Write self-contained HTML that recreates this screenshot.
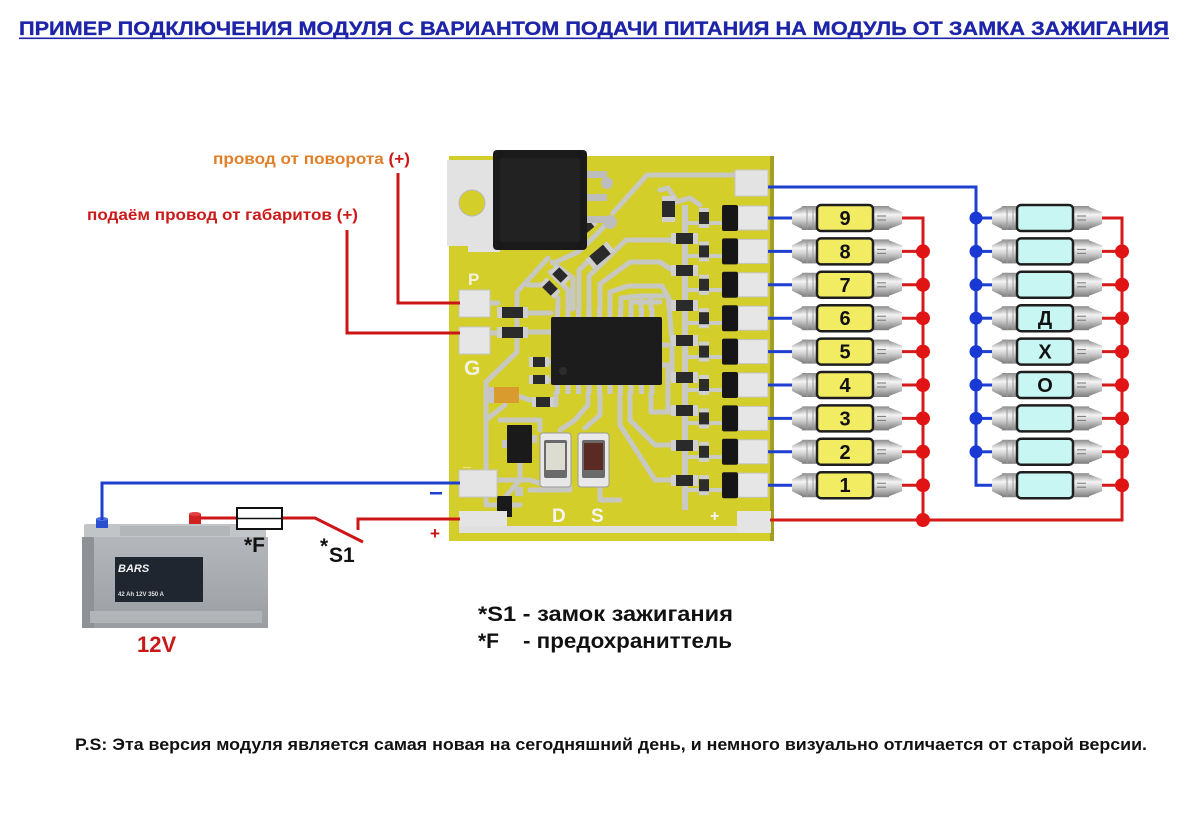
<!DOCTYPE html>
<html><head><meta charset="utf-8">
<style>
html,body{margin:0;padding:0;background:#fff;}
svg{display:block;}
text{font-family:"Liberation Sans","DejaVu Sans",sans-serif;font-weight:bold;}
</style></head><body>
<svg width="1200" height="828" viewBox="0 0 1200 828" xmlns="http://www.w3.org/2000/svg">
<defs>
 <linearGradient id="cap" x1="0" y1="0" x2="0" y2="1">
  <stop offset="0" stop-color="#8a8a8a"/>
  <stop offset="0.35" stop-color="#f4f4f4"/>
  <stop offset="0.6" stop-color="#cfcfcf"/>
  <stop offset="1" stop-color="#7c7c7c"/>
 </linearGradient>
 <linearGradient id="bat" x1="0" y1="0" x2="0" y2="1">
  <stop offset="0" stop-color="#b4b8bc"/>
  <stop offset="1" stop-color="#9a9ea2"/>
 </linearGradient>
 <g id="caps">
  <polygon points="-54,-6 -44,-11 -44,11 -54,6" fill="url(#cap)"/>
  <rect x="-44" y="-12" width="16" height="24" fill="url(#cap)"/>
  <line x1="-39" y1="-12" x2="-39" y2="12" stroke="#9a9a9a" stroke-width="1"/>
  <line x1="-33" y1="-12" x2="-33" y2="12" stroke="#9a9a9a" stroke-width="1"/>
  <rect x="27" y="-12" width="16" height="24" fill="url(#cap)"/>
  <polygon points="43,-11 56,-6 56,6 43,11" fill="url(#cap)"/>
  <line x1="31" y1="-2" x2="40" y2="-2" stroke="#777" stroke-width="1"/>
  <line x1="31" y1="2" x2="40" y2="2" stroke="#777" stroke-width="1"/>
 </g>
</defs>

<!-- Title -->
<text x="19" y="35" font-size="19" fill="#1d24a8" stroke="#1d24a8" stroke-width="0.3" textLength="1150" lengthAdjust="spacingAndGlyphs">ПРИМЕР ПОДКЛЮЧЕНИЯ МОДУЛЯ С ВАРИАНТОМ ПОДАЧИ ПИТАНИЯ НА МОДУЛЬ ОТ ЗАМКА ЗАЖИГАНИЯ</text>
<rect x="19" y="37.5" width="1150" height="1.6" fill="#1d24a8"/>

<!-- Labels top-left -->
<text x="213" y="164" font-size="16" textLength="197" lengthAdjust="spacingAndGlyphs"><tspan fill="#e0802a">провод от поворота </tspan><tspan fill="#cc1a1a">(+)</tspan></text>
<text x="87" y="220" font-size="16" fill="#cc1a1a" textLength="271" lengthAdjust="spacingAndGlyphs">подаём провод от габаритов (+)</text>

<!-- PCB -->
<g>
 <rect x="449" y="156" width="325" height="385" fill="#d4ce2b"/>
 <rect x="770" y="156" width="4" height="385" fill="#a49e22"/>
 <!-- tab -->
 <path d="M447 160 H500 V252 H468 V246 H447 Z" fill="#e2e2e2"/>
 <circle cx="472" cy="203" r="13" fill="#d4ce2b" stroke="#b8b8b8" stroke-width="1"/>
 <!-- traces -->
 <g fill="none" stroke="#c8c8c2" stroke-width="5" stroke-linejoin="round" stroke-linecap="round">
  <path d="M613 213 L647 175 H735"/>
  <path d="M608 222 L595 236 L578 252 L556 262"/>
  <path d="M548 258 L517 292 V352 L486 382 V483 H462"/>
  <path d="M486 400 V505 H520"/>
  <path d="M552 262 L573 278 V309"/>
  <path d="M558 309 V298 L545 285 L528 285"/>
  <path d="M568 309 V290 L550 272"/>
  <path d="M579 309 V270 L600 250"/>
  <path d="M589 309 V276 L626 240 H672"/>
  <path d="M600 309 V284 L630 262 H660 L672 270"/>
  <path d="M610 309 V292 L628 286 H662 L672 305"/>
  <path d="M621 309 V298 L640 296 H668 L672 340"/>
  <path d="M631 309 V302 H660"/>
  <path d="M641 309 V300"/>
  <path d="M651 309 V300"/>
  <path d="M662 345 H672 V377"/>
  <path d="M662 365 H668 V410 H672"/>
  <path d="M651 393 V412 L670 412"/>
  <path d="M630 393 V420 L655 445 H672"/>
  <path d="M620 393 V425 L655 480 H672"/>
  <path d="M600 393 V415 L585 428"/>
  <path d="M588 393 V405 L575 420 L560 430"/>
  <path d="M556 393 V405 L530 400 L515 395"/>
  <path d="M527 313 H551"/>
  <path d="M527 332 H551"/>
  <path d="M490 303 H498"/>
  <path d="M490 333 H498"/>
  <path d="M540 362 H551"/>
  <path d="M540 380 H551"/>
  <path d="M505 405 L486 420"/>
  <path d="M520 463 V480 L505 497"/>
  <path d="M497 480 L530 480 L560 490"/>
  <path d="M665 205 L690 198 L700 205"/>
  <path d="M675 198 L668 188 L660 190"/>
  <path d="M500 420 H540 V430"/>
  <path d="M530 490 H570 V487"/>
  <path d="M600 487 V500 H620"/>
 </g>
 <!-- bus -->
 <rect x="682" y="205" width="6" height="305" fill="#cacac4"/>
 <g fill="#cacac4">
  <rect x="685" y="221" width="38" height="4"/>
  <rect x="685" y="254" width="38" height="4"/>
  <rect x="685" y="288" width="38" height="4"/>
  <rect x="685" y="321" width="38" height="4"/>
  <rect x="685" y="355" width="38" height="4"/>
  <rect x="685" y="388" width="38" height="4"/>
  <rect x="685" y="421" width="38" height="4"/>
  <rect x="685" y="455" width="38" height="4"/>
  <rect x="685" y="488" width="38" height="4"/>
 </g>
 <!-- top right pad -->
 <rect x="735" y="170" width="33" height="26" fill="#e3e3e3" stroke="#c4c4c4"/>
 <!-- output pads -->
 <g fill="#e6e6e6" stroke="#c4c4c4" stroke-width="1">
  <rect x="738" y="206" width="30" height="24"/>
  <rect x="738" y="239.4" width="30" height="24"/>
  <rect x="738" y="272.8" width="30" height="24"/>
  <rect x="738" y="306.2" width="30" height="24"/>
  <rect x="738" y="339.6" width="30" height="24"/>
  <rect x="738" y="373" width="30" height="24"/>
  <rect x="738" y="406.4" width="30" height="24"/>
  <rect x="738" y="439.8" width="30" height="24"/>
  <rect x="738" y="473.2" width="30" height="24"/>
 </g>
 <!-- transistors -->
 <g fill="#161616">
  <rect x="722" y="205" width="16" height="26" rx="2"/>
  <rect x="722" y="238.4" width="16" height="26" rx="2"/>
  <rect x="722" y="271.8" width="16" height="26" rx="2"/>
  <rect x="722" y="305.2" width="16" height="26" rx="2"/>
  <rect x="722" y="338.6" width="16" height="26" rx="2"/>
  <rect x="722" y="372" width="16" height="26" rx="2"/>
  <rect x="722" y="405.4" width="16" height="26" rx="2"/>
  <rect x="722" y="438.8" width="16" height="26" rx="2"/>
  <rect x="722" y="472.2" width="16" height="26" rx="2"/>
 </g>
 <!-- small vertical resistors -->
 <g>
  <g fill="#cfcfcf">
   <rect x="699" y="208" width="10" height="20"/><rect x="699" y="241.4" width="10" height="20"/><rect x="699" y="274.8" width="10" height="20"/>
   <rect x="699" y="308.2" width="10" height="20"/><rect x="699" y="341.6" width="10" height="20"/><rect x="699" y="375" width="10" height="20"/>
   <rect x="699" y="408.4" width="10" height="20"/><rect x="699" y="441.8" width="10" height="20"/><rect x="699" y="475.2" width="10" height="20"/>
  </g>
  <g fill="#2c2c2c">
   <rect x="699" y="212" width="10" height="12"/><rect x="699" y="245.4" width="10" height="12"/><rect x="699" y="278.8" width="10" height="12"/>
   <rect x="699" y="312.2" width="10" height="12"/><rect x="699" y="345.6" width="10" height="12"/><rect x="699" y="379" width="10" height="12"/>
   <rect x="699" y="412.4" width="10" height="12"/><rect x="699" y="445.8" width="10" height="12"/><rect x="699" y="479.2" width="10" height="12"/>
  </g>
 </g>
 <!-- 103 resistors -->
 <g>
  <g fill="#d0d0d0">
   <rect x="671" y="233" width="27" height="11"/><rect x="671" y="265" width="27" height="11"/><rect x="671" y="300" width="27" height="11"/><rect x="671" y="335" width="27" height="11"/>
   <rect x="671" y="372" width="27" height="11"/><rect x="671" y="405" width="27" height="11"/><rect x="671" y="440" width="27" height="11"/><rect x="671" y="475" width="27" height="11"/>
  </g>
  <g fill="#2a2a2a">
   <rect x="676" y="233" width="17" height="11"/><rect x="676" y="265" width="17" height="11"/><rect x="676" y="300" width="17" height="11"/><rect x="676" y="335" width="17" height="11"/>
   <rect x="676" y="372" width="17" height="11"/><rect x="676" y="405" width="17" height="11"/><rect x="676" y="440" width="17" height="11"/><rect x="676" y="475" width="17" height="11"/>
  </g>
 </g>
 <!-- top E01 resistor -->
 <rect x="662" y="196" width="13" height="26" fill="#cfcfcf"/>
 <rect x="662" y="201" width="13" height="16" fill="#2a2a2a"/>
 <!-- diagonal resistors -->
 <g transform="translate(585,228) rotate(-40)"><rect x="-12" y="-5" width="24" height="10" fill="#cfcfcf"/><rect x="-8" y="-5" width="16" height="10" fill="#2a2a2a"/></g>
 <g transform="translate(600,255) rotate(-40)"><rect x="-14" y="-6" width="28" height="12" fill="#cfcfcf"/><rect x="-9" y="-6" width="18" height="12" fill="#2a2a2a"/></g>
 <g transform="translate(560,275) rotate(45)"><rect x="-10" y="-5" width="20" height="10" fill="#cfcfcf"/><rect x="-6" y="-5" width="12" height="10" fill="#2a2a2a"/></g>
 <g transform="translate(550,288) rotate(45)"><rect x="-10" y="-5" width="20" height="10" fill="#cfcfcf"/><rect x="-6" y="-5" width="12" height="10" fill="#2a2a2a"/></g>
 <!-- 822 resistors -->
 <rect x="497" y="307" width="31" height="11" fill="#cfcfcf"/><rect x="502" y="307" width="21" height="11" fill="#2a2a2a"/>
 <rect x="497" y="327" width="31" height="11" fill="#cfcfcf"/><rect x="502" y="327" width="21" height="11" fill="#2a2a2a"/>
 <!-- small resistors left of IC -->
 <rect x="529" y="357" width="20" height="10" fill="#cfcfcf"/><rect x="533" y="357" width="12" height="10" fill="#2a2a2a"/>
 <rect x="529" y="375" width="20" height="9" fill="#cfcfcf"/><rect x="533" y="375" width="12" height="9" fill="#2a2a2a"/>
 <rect x="532" y="397" width="22" height="10" fill="#cfcfcf"/><rect x="536" y="397" width="14" height="10" fill="#2a2a2a"/>
 <!-- IC pins -->
 <g fill="#c8c8c8">
  <rect x="555" y="308" width="5" height="10"/><rect x="565.5" y="308" width="5" height="10"/><rect x="576" y="308" width="5" height="10"/><rect x="586.5" y="308" width="5" height="10"/><rect x="597" y="308" width="5" height="10"/>
  <rect x="607.5" y="308" width="5" height="10"/><rect x="618" y="308" width="5" height="10"/><rect x="628.5" y="308" width="5" height="10"/><rect x="639" y="308" width="5" height="10"/><rect x="649.5" y="308" width="5" height="10"/>
  <rect x="555" y="384" width="5" height="10"/><rect x="565.5" y="384" width="5" height="10"/><rect x="576" y="384" width="5" height="10"/><rect x="586.5" y="384" width="5" height="10"/><rect x="597" y="384" width="5" height="10"/>
  <rect x="607.5" y="384" width="5" height="10"/><rect x="618" y="384" width="5" height="10"/><rect x="628.5" y="384" width="5" height="10"/><rect x="639" y="384" width="5" height="10"/><rect x="649.5" y="384" width="5" height="10"/>
 </g>
 <!-- IC -->
 <rect x="551" y="317" width="111" height="68" rx="2" fill="#1c1c1c"/>
 <circle cx="563" cy="371" r="4" fill="#2c2c2c"/>
 <!-- regulator -->
 <g fill="#bdbdbd">
  <rect x="586" y="171" width="21" height="7"/><rect x="586" y="194" width="21" height="7"/><rect x="586" y="216" width="21" height="7"/>
  <circle cx="607" cy="183" r="6"/><circle cx="610" cy="222" r="7"/>
 </g>
 <rect x="493" y="150" width="94" height="100" rx="4" fill="#1a1a1a"/>
 <rect x="500" y="158" width="80" height="84" rx="3" fill="#222"/>
 <!-- tantalum cap -->
 <rect x="488" y="387" width="31" height="16" fill="#d99a2e"/>
 <rect x="488" y="387" width="6" height="16" fill="#c5c5c5"/>
 <!-- SOT-23 -->
 <rect x="502" y="440" width="6" height="8" fill="#c5c5c5"/>
 <rect x="531" y="435" width="6" height="8" fill="#c5c5c5"/>
 <rect x="507" y="425" width="25" height="38" rx="1" fill="#1a1a1a"/>
 <!-- small transistor -->
 <rect x="497" y="496" width="15" height="21" fill="#1a1a1a"/>
 <rect x="515" y="487" width="8" height="9" fill="#c5c5c5"/>
 <!-- buttons -->
 <g>
  <rect x="540" y="433" width="31" height="54" rx="3" fill="#e8e8e8" stroke="#9a9a9a"/>
  <rect x="544" y="440" width="23" height="38" rx="2" fill="#6a6a6a"/>
  <rect x="546" y="443" width="19" height="27" fill="#dcdcd0"/>
  <rect x="578" y="433" width="31" height="54" rx="3" fill="#e8e8e8" stroke="#9a9a9a"/>
  <rect x="582" y="440" width="23" height="38" rx="2" fill="#6a6a6a"/>
  <rect x="584" y="443" width="19" height="27" fill="#5b2a22"/>
 </g>
 <!-- left pads -->
 <rect x="459" y="290" width="31" height="27" fill="#e6e6e6" stroke="#c4c4c4"/>
 <rect x="459" y="327" width="31" height="27" fill="#e6e6e6" stroke="#c4c4c4"/>
 <rect x="459" y="470" width="38" height="27" fill="#e4e4e4" stroke="#c4c4c4"/>
 <!-- bottom strip -->
 <rect x="459" y="511" width="48" height="22" fill="#e4e4e4"/>
 <rect x="459" y="526" width="312" height="7" fill="#e0e0e0"/>
 <rect x="737" y="511" width="34" height="22" fill="#e4e4e4"/>
 <!-- board text -->
 <text x="468" y="285" font-size="17" font-weight="normal" fill="#f2f2e0">P</text>
 <text x="464" y="375" font-size="21" fill="#f2f2e0">G</text>
 <text x="463" y="466" font-size="14" fill="#f2f2e0">_</text>
 <text x="552" y="522" font-size="19" fill="#f4f4f4">D</text>
 <text x="591" y="522" font-size="19" fill="#f4f4f4">S</text>
 <text x="710" y="521" font-size="16" fill="#f4f4f4">+</text>
</g>

<!-- input wires -->
<g fill="none" stroke="#cc1515" stroke-width="3">
 <polyline points="398,173 398,303 460,303"/>
 <polyline points="347,230 347,333 460,333"/>
</g>

<!-- LED wiring -->
<g fill="none" stroke="#1f3fd0" stroke-width="3">
 <polyline points="768,187 976,187 976,485.2 992,485.2"/>
 <line x1="768" y1="218" x2="792" y2="218"/>
 <line x1="768" y1="251.4" x2="792" y2="251.4"/>
 <line x1="768" y1="284.8" x2="792" y2="284.8"/>
 <line x1="768" y1="318.2" x2="792" y2="318.2"/>
 <line x1="768" y1="351.6" x2="792" y2="351.6"/>
 <line x1="768" y1="385" x2="792" y2="385"/>
 <line x1="768" y1="418.4" x2="792" y2="418.4"/>
 <line x1="768" y1="451.8" x2="792" y2="451.8"/>
 <line x1="768" y1="485.2" x2="792" y2="485.2"/>
 <line x1="976" y1="218" x2="992" y2="218"/>
 <line x1="976" y1="251.4" x2="992" y2="251.4"/>
 <line x1="976" y1="284.8" x2="992" y2="284.8"/>
 <line x1="976" y1="318.2" x2="992" y2="318.2"/>
 <line x1="976" y1="351.6" x2="992" y2="351.6"/>
 <line x1="976" y1="385" x2="992" y2="385"/>
 <line x1="976" y1="418.4" x2="992" y2="418.4"/>
 <line x1="976" y1="451.8" x2="992" y2="451.8"/>
</g>
<g fill="none" stroke="#d41a1a" stroke-width="3">
 <polyline points="902,218 923,218 923,520"/>
 <polyline points="1100,218 1122,218 1122,520 770,520"/>
 <line x1="902" y1="251.4" x2="923" y2="251.4"/>
 <line x1="902" y1="284.8" x2="923" y2="284.8"/>
 <line x1="902" y1="318.2" x2="923" y2="318.2"/>
 <line x1="902" y1="351.6" x2="923" y2="351.6"/>
 <line x1="902" y1="385" x2="923" y2="385"/>
 <line x1="902" y1="418.4" x2="923" y2="418.4"/>
 <line x1="902" y1="451.8" x2="923" y2="451.8"/>
 <line x1="902" y1="485.2" x2="923" y2="485.2"/>
 <line x1="1100" y1="251.4" x2="1122" y2="251.4"/>
 <line x1="1100" y1="284.8" x2="1122" y2="284.8"/>
 <line x1="1100" y1="318.2" x2="1122" y2="318.2"/>
 <line x1="1100" y1="351.6" x2="1122" y2="351.6"/>
 <line x1="1100" y1="385" x2="1122" y2="385"/>
 <line x1="1100" y1="418.4" x2="1122" y2="418.4"/>
 <line x1="1100" y1="451.8" x2="1122" y2="451.8"/>
 <line x1="1100" y1="485.2" x2="1122" y2="485.2"/>
</g>
<g fill="#e01414">
 <circle cx="923" cy="251.4" r="7"/><circle cx="923" cy="284.8" r="7"/><circle cx="923" cy="318.2" r="7"/><circle cx="923" cy="351.6" r="7"/>
 <circle cx="923" cy="385" r="7"/><circle cx="923" cy="418.4" r="7"/><circle cx="923" cy="451.8" r="7"/><circle cx="923" cy="485.2" r="7"/><circle cx="923" cy="520" r="7"/>
 <circle cx="1122" cy="251.4" r="7"/><circle cx="1122" cy="284.8" r="7"/><circle cx="1122" cy="318.2" r="7"/><circle cx="1122" cy="351.6" r="7"/>
 <circle cx="1122" cy="385" r="7"/><circle cx="1122" cy="418.4" r="7"/><circle cx="1122" cy="451.8" r="7"/><circle cx="1122" cy="485.2" r="7"/>
</g>
<g fill="#1a38d4">
 <circle cx="976" cy="218" r="6.5"/><circle cx="976" cy="251.4" r="6.5"/><circle cx="976" cy="284.8" r="6.5"/><circle cx="976" cy="318.2" r="6.5"/>
 <circle cx="976" cy="351.6" r="6.5"/><circle cx="976" cy="385" r="6.5"/><circle cx="976" cy="418.4" r="6.5"/><circle cx="976" cy="451.8" r="6.5"/>
</g>

<!-- LEDs -->
<g>
 <use href="#caps" x="846" y="218"/><use href="#caps" x="846" y="251.4"/><use href="#caps" x="846" y="284.8"/>
 <use href="#caps" x="846" y="318.2"/><use href="#caps" x="846" y="351.6"/><use href="#caps" x="846" y="385"/>
 <use href="#caps" x="846" y="418.4"/><use href="#caps" x="846" y="451.8"/><use href="#caps" x="846" y="485.2"/>
 <use href="#caps" x="1046" y="218"/><use href="#caps" x="1046" y="251.4"/><use href="#caps" x="1046" y="284.8"/>
 <use href="#caps" x="1046" y="318.2"/><use href="#caps" x="1046" y="351.6"/><use href="#caps" x="1046" y="385"/>
 <use href="#caps" x="1046" y="418.4"/><use href="#caps" x="1046" y="451.8"/><use href="#caps" x="1046" y="485.2"/>
</g>
<g fill="#f2ec62" stroke="#1e1e1e" stroke-width="2.5">
 <rect x="817" y="205" width="56" height="26" rx="4"/>
 <rect x="817" y="238.4" width="56" height="26" rx="4"/>
 <rect x="817" y="271.8" width="56" height="26" rx="4"/>
 <rect x="817" y="305.2" width="56" height="26" rx="4"/>
 <rect x="817" y="338.6" width="56" height="26" rx="4"/>
 <rect x="817" y="372" width="56" height="26" rx="4"/>
 <rect x="817" y="405.4" width="56" height="26" rx="4"/>
 <rect x="817" y="438.8" width="56" height="26" rx="4"/>
 <rect x="817" y="472.2" width="56" height="26" rx="4"/>
</g>
<g fill="#c8f6f2" stroke="#1e1e1e" stroke-width="2.5">
 <rect x="1017" y="205" width="56" height="26" rx="4"/>
 <rect x="1017" y="238.4" width="56" height="26" rx="4"/>
 <rect x="1017" y="271.8" width="56" height="26" rx="4"/>
 <rect x="1017" y="305.2" width="56" height="26" rx="4"/>
 <rect x="1017" y="338.6" width="56" height="26" rx="4"/>
 <rect x="1017" y="372" width="56" height="26" rx="4"/>
 <rect x="1017" y="405.4" width="56" height="26" rx="4"/>
 <rect x="1017" y="438.8" width="56" height="26" rx="4"/>
 <rect x="1017" y="472.2" width="56" height="26" rx="4"/>
</g>
<g font-size="20" fill="#111" text-anchor="middle">
 <text x="845" y="225">9</text>
 <text x="845" y="258.4">8</text>
 <text x="845" y="291.8">7</text>
 <text x="845" y="325.2">6</text>
 <text x="845" y="358.6">5</text>
 <text x="845" y="392">4</text>
 <text x="845" y="425.4">3</text>
 <text x="845" y="458.8">2</text>
 <text x="845" y="492.2">1</text>
 <text x="1045" y="325.2">Д</text>
 <text x="1045" y="358.6">Х</text>
 <text x="1045" y="392">О</text>
</g>

<!-- Battery -->
<g>
 <rect x="84" y="524" width="182" height="15" rx="2" fill="#c2c5c8"/>
 <rect x="120" y="526" width="110" height="10" fill="#b3b6b9"/>
 <rect x="82" y="537" width="186" height="91" fill="url(#bat)"/>
 <rect x="82" y="537" width="12" height="91" fill="#8e9296"/>
 <rect x="115" y="557" width="88" height="45" fill="#1f2630"/>
 <text x="118" y="572" font-size="11" font-style="italic" fill="#f0f0f0">BARS</text>
 <text x="118" y="596" font-size="6" fill="#e0e0e0">42 Ah 12V 350 A</text>
 <rect x="90" y="611" width="172" height="12" fill="#b2b5b8"/>
 <rect x="96" y="519" width="12" height="9" fill="#2a50d0"/>
 <ellipse cx="102" cy="519" rx="6" ry="2" fill="#5070e0"/>
 <rect x="189" y="514" width="12" height="10" fill="#d02020"/>
 <ellipse cx="195" cy="514" rx="6" ry="2" fill="#e04040"/>
</g>
<text x="137" y="652" font-size="22" fill="#c81818">12V</text>

<!-- supply wires -->
<polyline points="102,520 102,483 460,483" fill="none" stroke="#1f3fd0" stroke-width="3"/>
<g fill="none" stroke="#cc1515" stroke-width="3">
 <line x1="200" y1="518" x2="237" y2="518"/>
 <polyline points="282,518 315,518 363,542"/>
 <polyline points="358,530 358,519 460,519"/>
</g>
<rect x="237" y="508" width="45" height="21" fill="#fff" stroke="#111" stroke-width="2"/>
<line x1="237" y1="518.5" x2="282" y2="518.5" stroke="#111" stroke-width="1.5"/>
<rect x="430" y="492" width="12" height="2.5" fill="#1f3fd0"/>
<text x="430" y="539" font-size="17" fill="#cc1515">+</text>
<text x="244" y="552" font-size="21" fill="#111">*F</text>
<text x="320" y="553" font-size="21" fill="#111">*</text>
<text x="329" y="562" font-size="21" fill="#111">S1</text>

<!-- legend -->
<text x="478" y="621" font-size="21" fill="#111" textLength="255" lengthAdjust="spacingAndGlyphs">*S1 - замок зажигания</text>
<text x="478" y="648" font-size="21" fill="#111">*F</text>
<text x="523" y="648" font-size="21" fill="#111" textLength="209" lengthAdjust="spacingAndGlyphs">- предохраниттель</text>

<text x="75" y="750" font-size="17" fill="#111" textLength="1072" lengthAdjust="spacingAndGlyphs">P.S: Эта версия модуля является самая новая на сегодняшний день, и немного визуально отличается от старой версии.</text>
</svg>
</body></html>
